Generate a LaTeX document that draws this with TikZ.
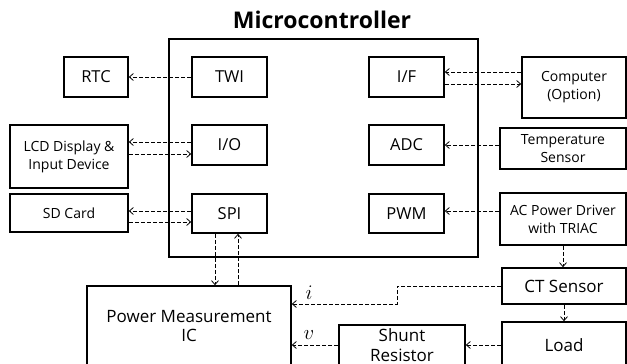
\documentclass[tikz,border=0pt]{standalone}
\usepackage{fontspec}
\setmainfont{Open Sans}
\usetikzlibrary{arrows.meta}

\begin{document}
\begin{tikzpicture}[x=1pt,y=-1pt,
    box/.style={draw,line width=1.6pt,align=center,inner sep=0pt,
                font=\fontsize{16.5}{20}\selectfont},
    ext/.style={box,font=\fontsize{14}{18}\selectfont},
    big/.style={box,font=\fontsize{17}{19.5}\selectfont},
    flow/.style={-{Straight Barb[length=4pt,width=7pt]},line width=0.8pt,
                 dash pattern=on 4pt off 2pt},
    lbl/.style={font=\fontsize{20}{22}\selectfont},
  ]
  \useasboundingbox (0,0) rectangle (627,364);
  \clip (0,0) rectangle (627,364);

  % microcontroller
  \node[font=\fontsize{23}{26}\selectfont\bfseries] (title) at (322,20) {Microcontroller};
  \node[box,minimum width=309pt,minimum height=218pt] (mcu) at (323.5,148) {};
  \node[box,minimum width=75pt,minimum height=40pt] (twi) at (229.5,77) {TWI};
  \node[box,minimum width=75pt,minimum height=40pt] (io) at (229.5,145) {I/O};
  \node[box,minimum width=75pt,minimum height=39pt] (spi) at (229.5,213.5) {SPI};
  \node[box,minimum width=75pt,minimum height=40pt] (iff) at (406.5,77) {I/F};
  \node[box,minimum width=75pt,minimum height=40pt] (adc) at (406.5,145) {ADC};
  \node[box,minimum width=75pt,minimum height=39pt] (pwm) at (406.5,213.5) {PWM};

  % peripherals
  \node[box,minimum width=64pt,minimum height=40pt] (rtc) at (96,77) {RTC};
  \node[ext,minimum width=118pt,minimum height=63pt] (lcd) at (69,156.5) {LCD Display \&\\Input Device};
  \node[ext,minimum width=118pt,minimum height=38pt] (sd) at (69,213) {SD Card};
  \node[ext,minimum width=104pt,minimum height=61pt] (comp) at (574,87.5) {Computer\\(Option)};
  \node[ext,minimum width=126pt,minimum height=41pt] (temp) at (563,148.5) {Temperature\\Sensor};
  \node[ext,minimum width=126pt,minimum height=52pt] (acd) at (563,219) {AC Power Driver\\with TRIAC};
  \node[big,minimum width=124pt,minimum height=36pt] (ct) at (564,286) {CT Sensor};
  \node[big,minimum width=124pt,minimum height=46pt] (load) at (564,345) {Load};
  \node[big,minimum width=126pt,minimum height=40pt] (shunt) at (402,345) {Shunt\\Resistor};
  \node[big,minimum width=204pt,minimum height=80pt] (pm) at (189,326) {Power Measurement\\IC};

  \draw[flow] (twi.west) -- (rtc.east);
  \draw[flow] ([yshift=3pt]io.west) -- ([yshift=3pt]io.west -| lcd.east);
  \draw[flow] ([yshift=-9pt]io.west -| lcd.east) -- ([yshift=-9pt]io.west);
  \draw[flow] ([yshift=2.5pt]spi.west) -- ([yshift=2.5pt]spi.west -| sd.east);
  \draw[flow] ([yshift=-8.5pt]spi.west -| sd.east) -- ([yshift=-8.5pt]spi.west);
  \draw[flow] ([yshift=5pt]iff.east -| comp.west) -- ([yshift=5pt]iff.east);
  \draw[flow] ([yshift=-7pt]iff.east) -- ([yshift=-7pt]iff.east -| comp.west);
  \draw[flow] (adc.east -| temp.west) -- (adc.east);
  \draw[flow] ([yshift=2.5pt]pwm.east -| acd.west) -- ([yshift=2.5pt]pwm.east);
  \draw[flow] ([xshift=-14.5pt]spi.south) -- ([xshift=-14.5pt]spi.south |- pm.north);
  \draw[flow] ([xshift=8.5pt]spi.south |- pm.north) -- ([xshift=8.5pt]spi.south);
  \draw[flow] (acd.south) -- (acd.south |- ct.north);
  \draw[flow] (ct.south) -- (ct.south |- load.north);

  \coordinate (ibend) at (397,304);
  \draw[flow] (ct.west) -- (ct.west -| ibend) -- (ibend) -- (ibend -| pm.east);
  \draw[flow] (shunt.west) -- (shunt.west -| pm.east);
  \draw[flow] (load.west) -- (load.west -| shunt.east);
  \node[lbl] (ilbl) at (309,293) {$i$};
  \node[lbl] (vlbl) at (309,335) {$v$};
\end{tikzpicture}
\end{document}
